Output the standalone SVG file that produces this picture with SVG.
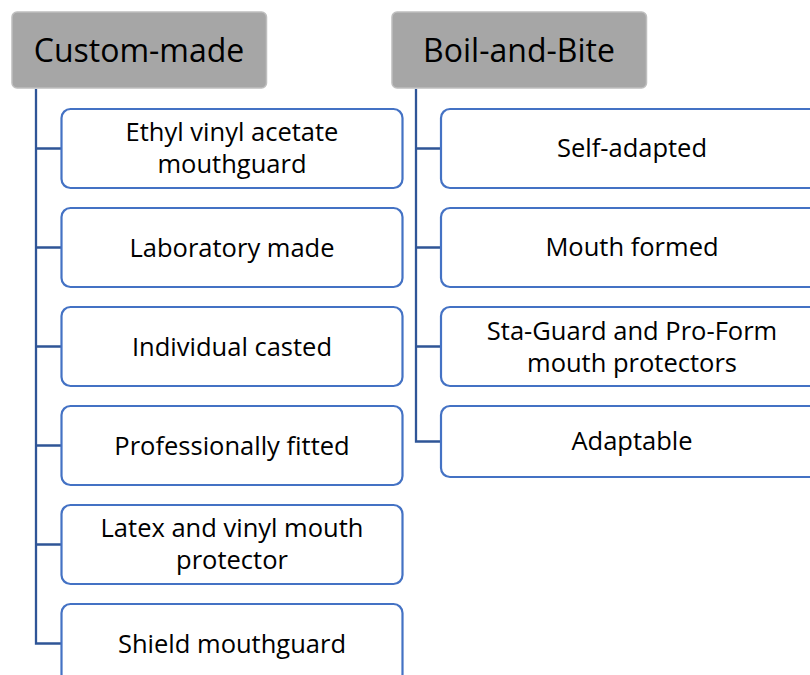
<svg xmlns="http://www.w3.org/2000/svg" width="810" height="675" viewBox="0 0 810 675">
<style>
.hdr{fill:#A6A6A6;stroke:#BFBFBF;stroke-width:1.5}
.box{fill:#FFFFFF;stroke:#4472C4;stroke-width:2.2}
.conn{fill:none;stroke:#2F5597;stroke-width:2.3}
text{font-family:"Open Sans","Liberation Sans",sans-serif;fill:#000;text-anchor:middle}
.ht{font-size:32px}
.ct{font-size:25.5px}
</style>
<rect width="810" height="675" fill="#FFFFFF"/>
<g id="connectors">
<path class="conn" d="M36,89 V643.5 H61.5 M36,148.5 H61.5 M36,247.5 H61.5 M36,346.5 H61.5 M36,445.5 H61.5 M36,544.5 H61.5"/>
<path class="conn" d="M416,89 V441.5 H441 M416,148.5 H441 M416,247.5 H441 M416,346.5 H441"/>
</g>
<g id="custom-made">
<rect class="hdr" x="12" y="12" width="254.5" height="76" rx="5"/>
<text class="ht" x="139" y="61.5">Custom-made</text>
</g>
<g id="boil-and-bite">
<rect class="hdr" x="392" y="12" width="254.5" height="76" rx="5"/>
<text class="ht" x="519" y="61.5">Boil-and-Bite</text>
</g>
<g id="ethyl">
<rect class="box" x="61.5" y="109" width="341" height="79" rx="9"/>
<text class="ct" x="232" y="141">Ethyl vinyl acetate</text>
<text class="ct" x="232" y="172.5">mouthguard</text>
</g>
<g id="laboratory">
<rect class="box" x="61.5" y="208" width="341" height="79" rx="9"/>
<text class="ct" x="232" y="257">Laboratory made</text>
</g>
<g id="individual">
<rect class="box" x="61.5" y="307" width="341" height="79" rx="9"/>
<text class="ct" x="232" y="355.5">Individual casted</text>
</g>
<g id="professional">
<rect class="box" x="61.5" y="406" width="341" height="79" rx="9"/>
<text class="ct" x="232" y="454.5">Professionally fitted</text>
</g>
<g id="latex">
<rect class="box" x="61.5" y="505" width="341" height="79" rx="9"/>
<text class="ct" x="232" y="537">Latex and vinyl mouth</text>
<text class="ct" x="232" y="568.5">protector</text>
</g>
<g id="shield">
<rect class="box" x="61.5" y="604" width="341" height="79" rx="9"/>
<text class="ct" x="232" y="652.5">Shield mouthguard</text>
</g>
<g id="self-adapted">
<rect class="box" x="441" y="109" width="382" height="79" rx="9"/>
<text class="ct" x="632" y="157">Self-adapted</text>
</g>
<g id="mouth-formed">
<rect class="box" x="441" y="208" width="382" height="79" rx="9"/>
<text class="ct" x="632" y="256">Mouth formed</text>
</g>
<g id="sta-guard">
<rect class="box" x="441" y="307" width="382" height="79" rx="9"/>
<text class="ct" x="632" y="340">Sta-Guard and Pro-Form</text>
<text class="ct" x="632" y="371.5">mouth protectors</text>
</g>
<g id="adaptable">
<rect class="box" x="441" y="406" width="382" height="71" rx="9"/>
<text class="ct" x="632" y="450">Adaptable</text>
</g>
</svg>
